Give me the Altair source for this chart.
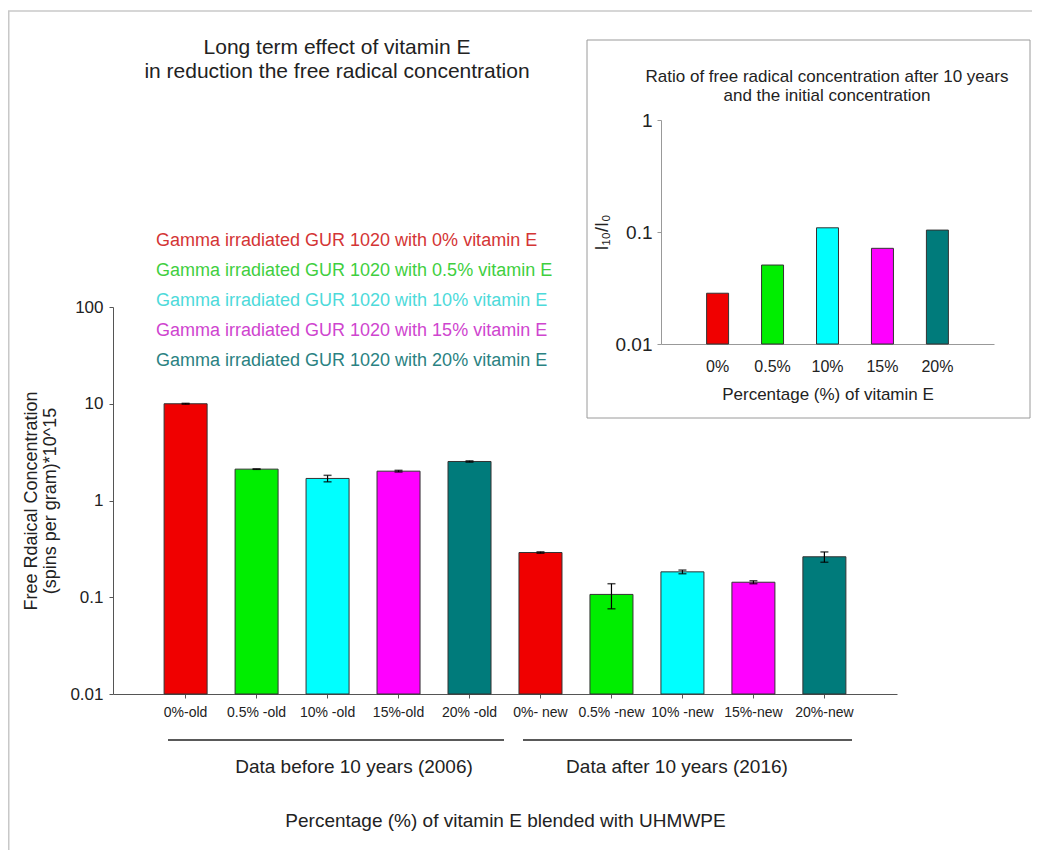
import altair as alt
import pandas as pd

# ---------------- data ----------------
categories = ["0%-old", "0.5% -old", "10% -old", "15%-old", "20% -old",
              "0%- new", "0.5% -new", "10% -new", "15%-new", "20%-new"]
vitamin = ["0%", "0.5%", "10%", "15%", "20%", "0%", "0.5%", "10%", "15%", "20%"]
conc = [10.0, 2.11, 1.69, 2.01, 2.53, 0.29, 0.107, 0.183, 0.143, 0.262]
conc_err = [0.1, 0.01, 0.13, 0.04, 0.04, 0.005, 0.031, 0.008, 0.005, 0.032]

ratio_cats = ["0%", "0.5%", "10%", "15%", "20%"]
ratios = [0.0284, 0.0507, 0.109, 0.0715, 0.104]

legend_labels = [
    "Gamma irradiated GUR 1020 with 0% vitamin E",
    "Gamma irradiated GUR 1020 with 0.5% vitamin E",
    "Gamma irradiated GUR 1020 with 10% vitamin E",
    "Gamma irradiated GUR 1020 with 15% vitamin E",
    "Gamma irradiated GUR 1020 with 20% vitamin E",
]

main_y_ticks = [0.01, 0.1, 1, 10, 100]
inset_y_ticks = [0.01, 0.1, 1]

bar_colors = ["#f00000", "#00ee00", "#00ffff", "#ff00ff", "#007b7b"]
text_colors = ["#d43535", "#3fcf3f", "#4ddada", "#cf45cf", "#2a8282"]

FONT = "Liberation Sans"
W, H = 1024, 842

# ---------------- tables ----------------
main_df = pd.DataFrame({"cat": categories, "vit": vitamin, "conc": conc, "err": conc_err})
main_df["lo"] = main_df["conc"] - main_df["err"]
main_df["hi"] = main_df["conc"] + main_df["err"]
inset_df = pd.DataFrame({"vit": ratio_cats, "ratio": ratios})
legend_df = pd.DataFrame({"label": legend_labels, "vit": ratio_cats})
one = pd.DataFrame({"k": [0]})

# ---------------- main chart ----------------
MX = [105, 889]
MY = [686, 299]

xm = alt.X("cat:N", sort=categories,
           scale=alt.Scale(domain=categories, range=MX, paddingInner=0.394, paddingOuter=0.72),
           axis=alt.Axis(orient="bottom", offset=-(H - MY[0]), labelAngle=0,
                         labelFontSize=14, labelPadding=7, tickSize=4, labelOverlap=False,
                         domainColor="#555555", tickColor="#555555", labelColor="#222222",
                         title="Percentage (%) of vitamin E blended with UHMWPE",
                         titleFontSize=19, titleFontWeight="normal", titlePadding=92,
                         titleColor="#222222", grid=False))
ym_scale = alt.Scale(type="log", domain=[0.01, 100], range=MY, nice=False)
ym = alt.Y("conc:Q", scale=ym_scale,
           axis=alt.Axis(orient="left", offset=-MX[0], values=main_y_ticks, format="~g",
                         labelFontSize=17, labelPadding=6, tickSize=4, grid=False,
                         domainColor="#555555", tickColor="#555555", labelColor="#222222",
                         title=["Free Rdaical Concentration", "(spins per gram)*10^15"],
                         titleFontSize=18, titleFontWeight="normal", titlePadding=10,
                         titleLineHeight=19, titleColor="#222222"))
cm = alt.Color("vit:N", scale=alt.Scale(domain=ratio_cats, range=bar_colors), legend=None)

bars = alt.Chart(main_df).mark_bar(stroke="#333333", strokeWidth=1).encode(
    x=xm, y=ym, y2=alt.Y2Datum(0.01), color=cm)
err_rule = alt.Chart(main_df).mark_rule(color="black", strokeWidth=1.2).encode(
    x=alt.X("cat:N", sort=categories), y=alt.Y("lo:Q"), y2="hi:Q")
err_lo = alt.Chart(main_df).mark_tick(color="black", size=8, thickness=1.5).encode(
    x=alt.X("cat:N", sort=categories), y=alt.Y("lo:Q"))
err_hi = alt.Chart(main_df).mark_tick(color="black", size=8, thickness=1.5).encode(
    x=alt.X("cat:N", sort=categories), y=alt.Y("hi:Q"))
main_layer = alt.layer(bars, err_rule, err_lo, err_hi)

# ---------------- inset chart ----------------
IX = [653, 986]
IY = [336, 112]
inset_bars = alt.Chart(inset_df).mark_bar(stroke="#333333", strokeWidth=1).encode(
    x=alt.X("vit:N", sort=ratio_cats,
            scale=alt.Scale(domain=ratio_cats, range=IX, paddingInner=0.6, paddingOuter=0.83),
            axis=alt.Axis(orient="bottom", offset=-(H - IY[0]), labelAngle=0,
                          labelFontSize=16, labelPadding=14, tickSize=0, grid=False,
                          domainColor="#999999", labelColor="#222222",
                          title="Percentage (%) of vitamin E", titleFontSize=17,
                          titleFontWeight="normal", titlePadding=12, titleColor="#222222")),
    y=alt.Y("ratio:Q",
            scale=alt.Scale(type="log", domain=[0.01, 1], range=IY, nice=False),
            axis=alt.Axis(orient="left", offset=-IX[0], values=inset_y_ticks, format="~g",
                          labelFontSize=19, labelPadding=5, tickSize=4, grid=False,
                          domainColor="#999999", tickColor="#999999", labelColor="#222222",
                          title="I₁₀/I₀", titleFontSize=18, titleFontWeight="normal",
                          titlePadding=4, titleColor="#222222")),
    y2=alt.Y2Datum(0.01),
    color=alt.Color("vit:N", scale=alt.Scale(domain=ratio_cats, range=bar_colors), legend=None),
)

inset_frame = alt.Chart(one).mark_rect(fill=None, stroke="#9a9a9a", strokeWidth=1).encode(
    x=alt.value(579), x2=alt.value(1022), y=alt.value(32), y2=alt.value(410))
inset_title = alt.Chart(one).mark_text(
    text=["Ratio of free radical concentration after 10 years", "and the initial concentration"],
    font=FONT, fontSize=17, lineHeight=19, align="center", baseline="middle", color="#222222"
).encode(x=alt.value(819), y=alt.value(69))

# ---------------- legend text ----------------
legend_text = alt.Chart(legend_df).mark_text(
    font=FONT, fontSize=18, align="left", baseline="middle").encode(
    x=alt.value(148),
    y=alt.Y("label:N", sort=legend_labels,
            scale=alt.Scale(domain=legend_labels, range=[233, 353], padding=0), axis=None),
    text="label:N",
    color=alt.Color("vit:N", scale=alt.Scale(domain=ratio_cats, range=text_colors), legend=None),
)

# ---------------- decorations ----------------
main_title = alt.Chart(one).mark_text(
    text=["Long term effect of vitamin E", "in reduction the free radical concentration"],
    font=FONT, fontSize=21, lineHeight=24, align="center", baseline="middle", color="#222222"
).encode(x=alt.value(329), y=alt.value(40))

grp_line_old = alt.Chart(one).mark_rule(color="#222222", strokeWidth=1.5).encode(
    x=alt.value(160), x2=alt.value(496), y=alt.value(732))
grp_line_new = alt.Chart(one).mark_rule(color="#222222", strokeWidth=1.5).encode(
    x=alt.value(515), x2=alt.value(844), y=alt.value(732))
grp_text_old = alt.Chart(one).mark_text(
    text="Data before 10 years (2006)", font=FONT, fontSize=19, align="center",
    baseline="middle", color="#222222").encode(x=alt.value(346), y=alt.value(759))
grp_text_new = alt.Chart(one).mark_text(
    text="Data after 10 years (2016)", font=FONT, fontSize=19, align="center",
    baseline="middle", color="#222222").encode(x=alt.value(669), y=alt.value(759))

border_top = alt.Chart(one).mark_rule(color="#c8c8c8", strokeWidth=1.5).encode(
    x=alt.value(0), x2=alt.value(W), y=alt.value(3))
border_left = alt.Chart(one).mark_rule(color="#c8c8c8", strokeWidth=1.5).encode(
    x=alt.value(0.75), y=alt.value(3), y2=alt.value(H))

chart = alt.layer(
    border_top, border_left, inset_frame,
    main_layer, inset_bars, legend_text,
    main_title, inset_title,
    grp_line_old, grp_line_new, grp_text_old, grp_text_new,
).resolve_scale(
    x="independent", y="independent", color="independent"
).properties(
    width=W, height=H, padding=0, autosize="none"
).configure(
    font=FONT
).configure_view(
    stroke=None
).configure_axis(
    labelFont=FONT, titleFont=FONT
)

chart.save("out.html", embed_options={"renderer": "svg", "actions": False})
